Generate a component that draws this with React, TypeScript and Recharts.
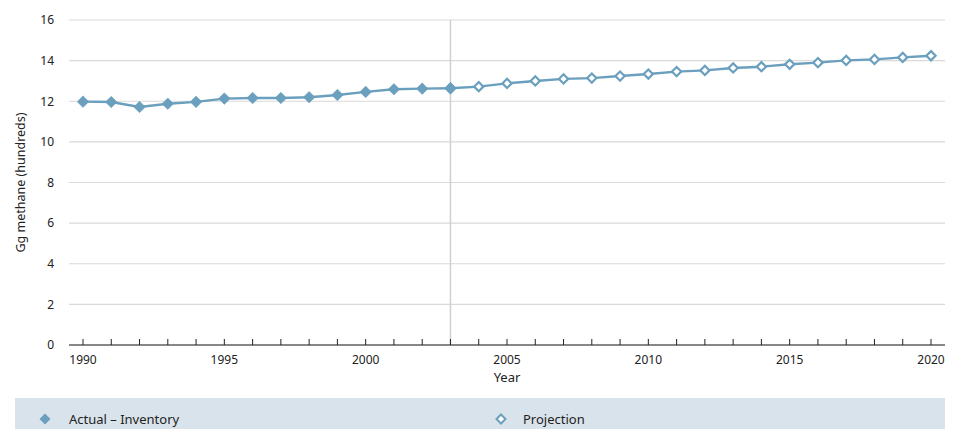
import React from 'react';
import { LineChart, Line, XAxis, YAxis, CartesianGrid, ReferenceLine } from 'recharts';

const years = [1990, 1991, 1992, 1993, 1994, 1995, 1996, 1997, 1998, 1999, 2000, 2001, 2002, 2003, 2004, 2005, 2006, 2007, 2008, 2009, 2010, 2011, 2012, 2013, 2014, 2015, 2016, 2017, 2018, 2019, 2020];
const actualValues = [11.98, 11.96, 11.72, 11.88, 11.97, 12.13, 12.16, 12.16, 12.2, 12.31, 12.46, 12.59, 12.62, 12.64];
const projectionValues = [12.64, 12.72, 12.88, 13.0, 13.1, 13.14, 13.24, 13.34, 13.46, 13.52, 13.64, 13.7, 13.82, 13.9, 14.01, 14.06, 14.16, 14.24];
const projectionStartYear = 2003;
const yTicks = [0, 2, 4, 6, 8, 10, 12, 14, 16];
const labelYears = [1990, 1995, 2000, 2005, 2010, 2015, 2020];
const dividerYear = 2003;

const seriesNames = { actual: 'Actual – Inventory', projection: 'Projection' };

const data = years.map((year, i) => {
  const pIdx = year - projectionStartYear;
  return {
    year,
    actual: i < actualValues.length ? actualValues[i] : null,
    projection: pIdx >= 0 && pIdx < projectionValues.length ? projectionValues[pIdx] : null,
  };
});

const COLOR = '#6a9fbe';
const FONT = '"Noto Sans", sans-serif';
const TEXT = '#222';

const FilledDiamond = (props: any) => {
  const { cx, cy } = props;
  if (cx == null || cy == null) return null;
  const r = 5.8;
  return <path d={`M${cx},${cy - r}L${cx + r},${cy}L${cx},${cy + r}L${cx - r},${cy}Z`} fill={COLOR} stroke={COLOR} strokeWidth={0.5} />;
};

const HollowDiamond = (props: any) => {
  const { cx, cy } = props;
  if (cx == null || cy == null) return null;
  const r = 4.6;
  return <path d={`M${cx},${cy - r}L${cx + r},${cy}L${cx},${cy + r}L${cx - r},${cy}Z`} fill="#fff" stroke={COLOR} strokeWidth={2.2} />;
};

const XTick = (props: any) => {
  const { x, y, payload } = props;
  const v = payload.value;
  return (
    <g>
      <line x1={x} x2={x} y1={y - 6} y2={y} stroke="#222" strokeWidth={1} />
      {labelYears.includes(v) && (
        <text x={x} y={y + 19} textAnchor="middle" fontFamily={FONT} fontSize={12} fill={TEXT}>
          {v}
        </text>
      )}
    </g>
  );
};

const LegendIcon = ({ hollow }: { hollow: boolean }) => (
  <svg width={14} height={14} style={{ display: 'block' }}>
    {hollow ? (
      <path d="M7,2.5L11.5,7L7,11.5L2.5,7Z" fill="#fff" stroke={COLOR} strokeWidth={2} />
    ) : (
      <path d="M7,1.5L12.5,7L7,12.5L1.5,7Z" fill={COLOR} />
    )}
  </svg>
);

export default function App() {
  return (
    <div style={{ position: 'absolute', left: 0, top: 0, width: 958, height: 429, background: '#fff', overflow: 'hidden' }}>
      <LineChart width={958} height={395} data={data} margin={{ top: 20, right: 13, bottom: 10, left: 9 }}>
        <CartesianGrid vertical={false} stroke="#d9d9d9" strokeWidth={1.2} />
        <XAxis
          dataKey="year"
          type="category"
          interval={0}
          padding={{ left: 14, right: 14 }}
          tickLine={false}
          tickSize={0}
          tickMargin={0}
          height={40}
          axisLine={{ stroke: '#222', strokeWidth: 1.2 }}
          tick={<XTick />}
          label={{
            content: (p: any) => {
              const vb = p.viewBox;
              return (
                <text x={vb.x + vb.width / 2} y={382} textAnchor="middle" fontFamily={FONT} fontSize={13} fill={TEXT}>
                  Year
                </text>
              );
            },
          }}
        />
        <YAxis
          domain={[0, 16]}
          ticks={yTicks}
          width={60}
          axisLine={false}
          tickLine={false}
          tickMargin={9}
          tick={{ fontFamily: FONT, fontSize: 12, fill: TEXT }}
          label={{
            content: (p: any) => {
              const vb = p.viewBox;
              const cy = vb.y + vb.height / 2;
              return (
                <text x={22} y={cy} transform={`rotate(-90, 22, ${cy})`} textAnchor="middle" dominantBaseline="middle" fontFamily={FONT} fontSize={12.5} fill={TEXT}>
                  Gg methane (hundreds)
                </text>
              );
            },
          }}
        />
        <ReferenceLine x={dividerYear} stroke="#d0d0d0" strokeWidth={1.5} />
        <Line
          dataKey="projection"
          name={seriesNames.projection}
          stroke={COLOR}
          strokeWidth={2.4}
          dot={<HollowDiamond />}
          activeDot={false}
          isAnimationActive={false}
          connectNulls={false}
        />
        <Line
          dataKey="actual"
          name={seriesNames.actual}
          stroke={COLOR}
          strokeWidth={2.4}
          dot={<FilledDiamond />}
          activeDot={false}
          isAnimationActive={false}
          connectNulls={false}
        />
      </LineChart>
      <div
        style={{
          position: 'absolute',
          left: 15,
          top: 398,
          width: 930,
          height: 31,
          background: '#d9e3ec',
          fontFamily: FONT,
          fontSize: 13,
          color: TEXT,
        }}
      >
        <div style={{ position: 'absolute', left: 23, top: 14, display: 'flex', alignItems: 'center' }}>
          <LegendIcon hollow={false} />
          <span style={{ marginLeft: 17, lineHeight: '14px' }}>{seriesNames.actual}</span>
        </div>
        <div style={{ position: 'absolute', left: 479, top: 14, display: 'flex', alignItems: 'center' }}>
          <LegendIcon hollow={true} />
          <span style={{ marginLeft: 15, lineHeight: '14px' }}>{seriesNames.projection}</span>
        </div>
      </div>
    </div>
  );
}
